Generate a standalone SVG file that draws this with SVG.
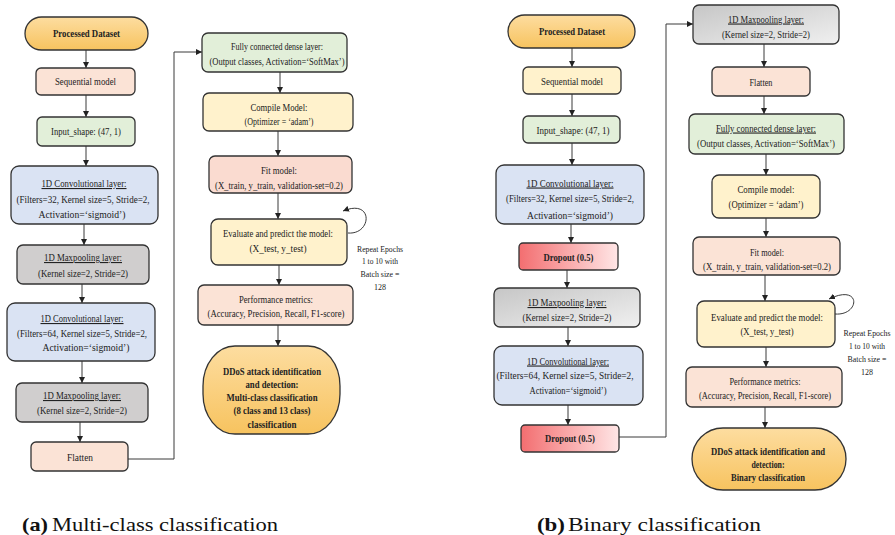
<svg xmlns="http://www.w3.org/2000/svg" width="895" height="535" viewBox="0 0 895 535">
<defs>
<style>
.bx{stroke:#333;stroke-width:1.3}
.t{font-family:"Liberation Serif",serif;font-size:11px;fill:#222;text-anchor:middle}
.bd{font-weight:bold}
.u{text-decoration:underline}
.r{font-size:8.5px}
.cap{font-family:"Liberation Serif",serif;font-size:19px;fill:#111}
.c{fill:none;stroke:#3a3a3a;stroke-width:1}
</style>
<linearGradient id="gold" x1="0" y1="0" x2="0" y2="1"><stop offset="0" stop-color="#FDDDA0"/><stop offset="1" stop-color="#F7C35F"/></linearGradient>
<linearGradient id="drop" x1="0" y1="0" x2="1" y2="0"><stop offset="0" stop-color="#F36E70"/><stop offset="1" stop-color="#FFE6E6"/></linearGradient>
<linearGradient id="gray" x1="0" y1="0" x2="1" y2="1"><stop offset="0" stop-color="#C6C6C6"/><stop offset="1" stop-color="#F0F0F0"/></linearGradient>
<marker id="ah" viewBox="0 0 10 10" refX="10" refY="5" markerWidth="6" markerHeight="6" orient="auto" markerUnits="userSpaceOnUse"><path d="M0,0 L10,5 L0,10 z" fill="#222"/></marker>
</defs>
<rect width="895" height="535" fill="#fff"/>

<g id="connectors">
<line class="c" x1="86" y1="50" x2="86" y2="68" marker-end="url(#ah)"/>
<line class="c" x1="86" y1="95" x2="86" y2="117" marker-end="url(#ah)"/>
<line class="c" x1="86" y1="146" x2="86" y2="166" marker-end="url(#ah)"/>
<line class="c" x1="84" y1="224" x2="84" y2="245" marker-end="url(#ah)"/>
<line class="c" x1="82" y1="284" x2="82" y2="303" marker-end="url(#ah)"/>
<line class="c" x1="82" y1="361" x2="82" y2="383" marker-end="url(#ah)"/>
<line class="c" x1="80" y1="422" x2="80" y2="442" marker-end="url(#ah)"/>
<path class="c" d="M128 459 H174 V52 H202" marker-end="url(#ah)"/>
<line class="c" x1="280" y1="72" x2="280" y2="93" marker-end="url(#ah)"/>
<line class="c" x1="278" y1="131" x2="278" y2="156" marker-end="url(#ah)"/>
<line class="c" x1="278" y1="193" x2="278" y2="219" marker-end="url(#ah)"/>
<line class="c" x1="279" y1="265" x2="279" y2="285" marker-end="url(#ah)"/>
<line class="c" x1="278" y1="325" x2="278" y2="346" marker-end="url(#ah)"/>
<path class="c" d="M348 233 C372 235, 374 198, 343 211" marker-end="url(#ah)"/>

<line class="c" x1="572" y1="48" x2="572" y2="67" marker-end="url(#ah)"/>
<line class="c" x1="572" y1="94" x2="572" y2="116" marker-end="url(#ah)"/>
<line class="c" x1="572" y1="143" x2="572" y2="165" marker-end="url(#ah)"/>
<line class="c" x1="571" y1="224" x2="571" y2="243" marker-end="url(#ah)"/>
<line class="c" x1="567" y1="270" x2="567" y2="288" marker-end="url(#ah)"/>
<line class="c" x1="568" y1="327" x2="568" y2="346" marker-end="url(#ah)"/>
<line class="c" x1="568" y1="405" x2="568" y2="425" marker-end="url(#ah)"/>
<path class="c" d="M619 437 H666 V24 H693" marker-end="url(#ah)"/>
<line class="c" x1="764" y1="44" x2="764" y2="67" marker-end="url(#ah)"/>
<line class="c" x1="764" y1="96" x2="764" y2="114" marker-end="url(#ah)"/>
<line class="c" x1="766" y1="154" x2="766" y2="175" marker-end="url(#ah)"/>
<line class="c" x1="766" y1="218" x2="766" y2="237" marker-end="url(#ah)"/>
<line class="c" x1="765" y1="275" x2="765" y2="301" marker-end="url(#ah)"/>
<line class="c" x1="766" y1="347" x2="766" y2="367" marker-end="url(#ah)"/>
<line class="c" x1="765" y1="407" x2="765" y2="428" marker-end="url(#ah)"/>
<path class="c" d="M835 314 C860 316, 862 283, 829 299" marker-end="url(#ah)"/>
</g>

<!-- (a) Multi-class -->
<g id="a-processed-dataset"><rect class="bx" x="25" y="17" width="123" height="33" rx="16.5" fill="url(#gold)"/><text class="t bd" x="86.5" y="37" textLength="67" lengthAdjust="spacingAndGlyphs">Processed Dataset</text></g>
<g id="a-sequential"><rect class="bx" x="36" y="68" width="99" height="27" rx="5" fill="#FBE3D6"/><text class="t" x="85.5" y="85" textLength="61" lengthAdjust="spacingAndGlyphs">Sequential model</text></g>
<g id="a-input"><rect class="bx" x="37" y="117" width="98" height="29" rx="5" fill="#E2EFD9"/><text class="t" x="86" y="135" textLength="70" lengthAdjust="spacingAndGlyphs">Input_shape: (47, 1)</text></g>
<g id="a-conv1"><rect class="bx" x="11" y="166" width="147" height="58" rx="8" fill="#DAE3F3"/>
<text class="t u" x="84" y="187" textLength="85" lengthAdjust="spacingAndGlyphs">1D Convolutional layer:</text>
<text class="t" x="83" y="202.5" textLength="133" lengthAdjust="spacingAndGlyphs">(Filters=32, Kernel size=5, Stride=2,</text>
<text class="t" x="82" y="218" textLength="87" lengthAdjust="spacingAndGlyphs">Activation=‘sigmoid’)</text></g>
<g id="a-maxpool1"><rect class="bx" x="17" y="245" width="132" height="39" rx="6" fill="#D0CECE"/>
<text class="t u" x="83" y="261" textLength="78" lengthAdjust="spacingAndGlyphs">1D Maxpooling layer:</text>
<text class="t" x="83" y="277" textLength="90" lengthAdjust="spacingAndGlyphs">(Kernel size=2, Stride=2)</text></g>
<g id="a-conv2"><rect class="bx" x="7" y="303" width="148" height="58" rx="8" fill="#DAE3F3"/>
<text class="t u" x="82" y="322" textLength="83" lengthAdjust="spacingAndGlyphs">1D Convolutional layer:</text>
<text class="t" x="82" y="336.5" textLength="130" lengthAdjust="spacingAndGlyphs">(Filters=64, Kernel size=5, Stride=2,</text>
<text class="t" x="86" y="351" textLength="87" lengthAdjust="spacingAndGlyphs">Activation=‘sigmoid’)</text></g>
<g id="a-maxpool2"><rect class="bx" x="16" y="383" width="132" height="39" rx="6" fill="#D0CECE"/>
<text class="t u" x="82" y="399" textLength="78" lengthAdjust="spacingAndGlyphs">1D Maxpooling layer:</text>
<text class="t" x="82" y="414" textLength="90" lengthAdjust="spacingAndGlyphs">(Kernel size=2, Stride=2)</text></g>
<g id="a-flatten"><rect class="bx" x="31" y="442" width="97" height="29" rx="5" fill="#FBE3D6"/><text class="t" x="80" y="461" textLength="26" lengthAdjust="spacingAndGlyphs">Flatten</text></g>

<g id="a-dense"><rect class="bx" x="202" y="33" width="145" height="39" rx="6" fill="#E2EFD9"/>
<text class="t" x="277" y="49.5" textLength="92" lengthAdjust="spacingAndGlyphs">Fully connected dense layer:</text>
<text class="t" x="277" y="64.5" textLength="135" lengthAdjust="spacingAndGlyphs">(Output classes, Activation=‘SoftMax’)</text></g>
<g id="a-compile"><rect class="bx" x="203" y="93" width="150" height="38" rx="6" fill="#FFF2CC"/>
<text class="t" x="279" y="110.5" textLength="57" lengthAdjust="spacingAndGlyphs">Compile Model:</text>
<text class="t" x="279" y="124.5" textLength="69" lengthAdjust="spacingAndGlyphs">(Optimizer = ‘adam’)</text></g>
<g id="a-fit"><rect class="bx" x="209" y="156" width="143" height="37" rx="6" fill="#FADBD0"/>
<text class="t" x="279" y="173.5" textLength="36" lengthAdjust="spacingAndGlyphs">Fit model:</text>
<text class="t" x="279" y="188.5" textLength="128" lengthAdjust="spacingAndGlyphs">(X_train, y_train, validation-set=0.2)</text></g>
<g id="a-evaluate"><rect class="bx" x="211" y="219" width="136" height="46" rx="7" fill="#FFF2CC"/>
<text class="t" x="278" y="236.5" textLength="110" lengthAdjust="spacingAndGlyphs">Evaluate and predict the model:</text>
<text class="t" x="278" y="251.5" textLength="57" lengthAdjust="spacingAndGlyphs">(X_test, y_test)</text></g>
<g id="a-repeat"><text class="t r" x="380" y="251.5" textLength="46" lengthAdjust="spacingAndGlyphs">Repeat Epochs</text>
<text class="t r" x="380" y="264" textLength="36" lengthAdjust="spacingAndGlyphs">1 to 10 with</text>
<text class="t r" x="380" y="276.5" textLength="39" lengthAdjust="spacingAndGlyphs">Batch size =</text>
<text class="t r" x="380" y="289.5" textLength="12" lengthAdjust="spacingAndGlyphs">128</text></g>
<g id="a-metrics"><rect class="bx" x="198" y="285" width="155" height="40" rx="6" fill="#FBE3D6"/>
<text class="t" x="276" y="302.5" textLength="74" lengthAdjust="spacingAndGlyphs">Performance metrics:</text>
<text class="t" x="276" y="317" textLength="137" lengthAdjust="spacingAndGlyphs">(Accuracy, Precision, Recall, F1-score)</text></g>
<g id="a-ddos"><rect class="bx" x="203" y="346" width="137" height="88" rx="32" ry="40" fill="url(#gold)"/>
<text class="t bd" x="272" y="375" textLength="98" lengthAdjust="spacingAndGlyphs">DDoS attack identification</text>
<text class="t bd" x="272" y="388" textLength="53" lengthAdjust="spacingAndGlyphs">and detection:</text>
<text class="t bd" x="272" y="401" textLength="91" lengthAdjust="spacingAndGlyphs">Multi-class classification</text>
<text class="t bd" x="272" y="414" textLength="77" lengthAdjust="spacingAndGlyphs">(8 class and 13 class)</text>
<text class="t bd" x="272" y="428" textLength="49" lengthAdjust="spacingAndGlyphs">classification</text></g>

<!-- (b) Binary -->
<g id="b-processed-dataset"><rect class="bx" x="508" y="15" width="127" height="33" rx="16.5" fill="url(#gold)"/><text class="t bd" x="572" y="35" textLength="66" lengthAdjust="spacingAndGlyphs">Processed Dataset</text></g>
<g id="b-sequential"><rect class="bx" x="523" y="67" width="98" height="27" rx="5" fill="#FFF2CC"/><text class="t" x="572" y="84.5" textLength="62" lengthAdjust="spacingAndGlyphs">Sequential model</text></g>
<g id="b-input"><rect class="bx" x="523" y="116" width="97" height="27" rx="5" fill="#E2EFD9"/><text class="t" x="573" y="133.5" textLength="73" lengthAdjust="spacingAndGlyphs">Input_shape: (47, 1)</text></g>
<g id="b-conv1"><rect class="bx" x="496" y="165" width="148" height="59" rx="8" fill="#DAE3F3"/>
<text class="t u" x="570" y="186.5" textLength="87" lengthAdjust="spacingAndGlyphs">1D Convolutional layer:</text>
<text class="t" x="570" y="202" textLength="128" lengthAdjust="spacingAndGlyphs">(Filters=32, Kernel size=5, Stride=2,</text>
<text class="t" x="570" y="218.5" textLength="86" lengthAdjust="spacingAndGlyphs">Activation=‘sigmoid’)</text></g>
<g id="b-dropout1"><rect class="bx" x="519" y="243" width="99" height="27" rx="4" fill="url(#drop)"/><text class="t bd" x="568.5" y="260.5" textLength="50" lengthAdjust="spacingAndGlyphs">Dropout (0.5)</text></g>
<g id="b-maxpool1"><rect class="bx" x="494" y="288" width="146" height="39" rx="6" fill="url(#gray)"/>
<text class="t u" x="567" y="306" textLength="79" lengthAdjust="spacingAndGlyphs">1D Maxpooling layer:</text>
<text class="t" x="567" y="320.5" textLength="89" lengthAdjust="spacingAndGlyphs">(Kernel size=2, Stride=2)</text></g>
<g id="b-conv2"><rect class="bx" x="494" y="346" width="149" height="59" rx="8" fill="#DAE3F3"/>
<text class="t u" x="568" y="364.5" textLength="82" lengthAdjust="spacingAndGlyphs">1D Convolutional layer:</text>
<text class="t" x="565" y="379" textLength="137" lengthAdjust="spacingAndGlyphs">(Filters=64, Kernel size=5, Stride=2,</text>
<text class="t" x="568" y="393.5" textLength="77" lengthAdjust="spacingAndGlyphs">Activation=‘sigmoid’)</text></g>
<g id="b-dropout2"><rect class="bx" x="521" y="425" width="98" height="27" rx="4" fill="url(#drop)"/><text class="t bd" x="570" y="442" textLength="50" lengthAdjust="spacingAndGlyphs">Dropout (0.5)</text></g>

<g id="b-maxpool2"><rect class="bx" x="693" y="5" width="146" height="39" rx="6" fill="url(#gray)"/>
<text class="t u" x="766" y="22.5" textLength="76" lengthAdjust="spacingAndGlyphs">1D Maxpooling layer:</text>
<text class="t" x="766" y="37.5" textLength="88" lengthAdjust="spacingAndGlyphs">(Kernel size=2, Stride=2)</text></g>
<g id="b-flatten"><rect class="bx" x="712" y="67" width="98" height="29" rx="5" fill="#FBE3D6"/><text class="t" x="761" y="85.5" textLength="23" lengthAdjust="spacingAndGlyphs">Flatten</text></g>
<g id="b-dense"><rect class="bx" x="689" y="114" width="155" height="40" rx="6" fill="#E2EFD9"/>
<text class="t u" x="766" y="131.5" textLength="100" lengthAdjust="spacingAndGlyphs">Fully connected dense layer:</text>
<text class="t" x="766" y="146.5" textLength="138" lengthAdjust="spacingAndGlyphs">(Output classes, Activation=‘SoftMax’)</text></g>
<g id="b-compile"><rect class="bx" x="712" y="175" width="108" height="43" rx="7" fill="#FFF2CC"/>
<text class="t" x="766" y="192.5" textLength="57" lengthAdjust="spacingAndGlyphs">Compile model:</text>
<text class="t" x="766" y="207.5" textLength="75" lengthAdjust="spacingAndGlyphs">(Optimizer = ‘adam’)</text></g>
<g id="b-fit"><rect class="bx" x="693" y="237" width="147" height="38" rx="6" fill="#FBE3D6"/>
<text class="t" x="767" y="255.5" textLength="34" lengthAdjust="spacingAndGlyphs">Fit model:</text>
<text class="t" x="767" y="269.5" textLength="128" lengthAdjust="spacingAndGlyphs">(X_train, y_train, validation-set=0.2)</text></g>
<g id="b-evaluate"><rect class="bx" x="697" y="301" width="138" height="46" rx="7" fill="#FFF2CC"/>
<text class="t" x="767" y="320.5" textLength="112" lengthAdjust="spacingAndGlyphs">Evaluate and predict the model:</text>
<text class="t" x="767" y="334.5" textLength="53" lengthAdjust="spacingAndGlyphs">(X_test, y_test)</text></g>
<g id="b-repeat"><text class="t r" x="867" y="336" textLength="47" lengthAdjust="spacingAndGlyphs">Repeat Epochs</text>
<text class="t r" x="867" y="348.5" textLength="36" lengthAdjust="spacingAndGlyphs">1 to 10 with</text>
<text class="t r" x="867" y="362" textLength="39" lengthAdjust="spacingAndGlyphs">Batch size =</text>
<text class="t r" x="867" y="374.5" textLength="12" lengthAdjust="spacingAndGlyphs">128</text></g>
<g id="b-metrics"><rect class="bx" x="686" y="367" width="156" height="40" rx="6" fill="#FBE3D6"/>
<text class="t" x="765" y="384.5" textLength="71" lengthAdjust="spacingAndGlyphs">Performance metrics:</text>
<text class="t" x="765" y="398.5" textLength="132" lengthAdjust="spacingAndGlyphs">(Accuracy, Precision, Recall, F1-score)</text></g>
<g id="b-ddos"><rect class="bx" x="692" y="428" width="154" height="62" rx="31" fill="url(#gold)"/>
<text class="t bd" x="768" y="455" textLength="114" lengthAdjust="spacingAndGlyphs">DDoS attack identification and</text>
<text class="t bd" x="768" y="468" textLength="33" lengthAdjust="spacingAndGlyphs">detection:</text>
<text class="t bd" x="768" y="481" textLength="74" lengthAdjust="spacingAndGlyphs">Binary classification</text></g>

<g id="captions">
<text class="cap" x="22" y="531" font-weight="bold" font-size="20" textLength="26" lengthAdjust="spacingAndGlyphs">(a)</text>
<text class="cap" x="52" y="531" textLength="226" lengthAdjust="spacingAndGlyphs">Multi-class classification</text>
<text class="cap" x="537" y="531" font-weight="bold" font-size="20" textLength="28" lengthAdjust="spacingAndGlyphs">(b)</text>
<text class="cap" x="568" y="531" textLength="193" lengthAdjust="spacingAndGlyphs">Binary classification</text>
</g>
</svg>
